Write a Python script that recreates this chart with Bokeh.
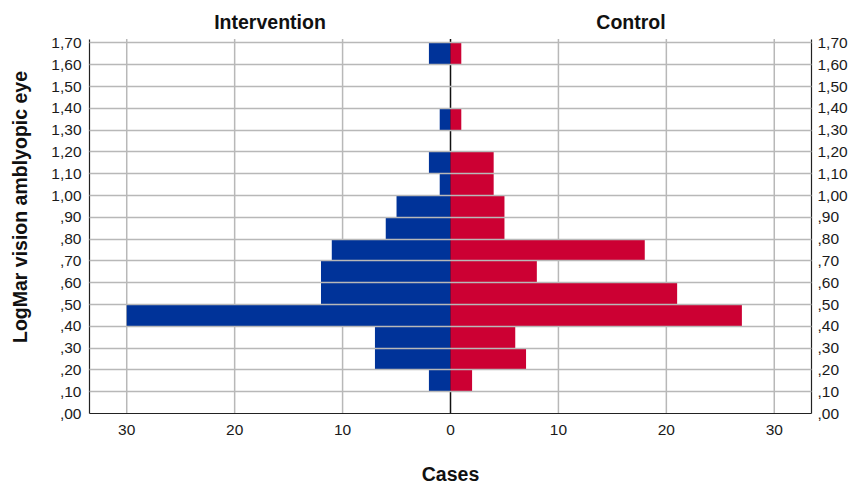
from bokeh.plotting import figure
from bokeh.models import LinearAxis, FixedTicker, Range1d
from bokeh.core.properties import value
from bokeh.embed import file_html
from bokeh.resources import INLINE

# ---- data (counts per 0.10 LogMar bin) ----
bin_lower = [0.0, 0.1, 0.2, 0.3, 0.4, 0.5, 0.6, 0.7, 0.8, 0.9, 1.0, 1.1, 1.2, 1.3, 1.4, 1.5, 1.6]
bin_upper = [0.1, 0.2, 0.3, 0.4, 0.5, 0.6, 0.7, 0.8, 0.9, 1.0, 1.1, 1.2, 1.3, 1.4, 1.5, 1.6, 1.7]
intervention = [0, 2, 7, 7, 30, 12, 12, 11, 6, 5, 1, 2, 0, 1, 0, 0, 2]
control = [0, 2, 7, 6, 27, 21, 8, 18, 5, 5, 4, 4, 0, 1, 0, 0, 1]

y_ticks = [0.0, 0.1, 0.2, 0.3, 0.4, 0.5, 0.6, 0.7, 0.8, 0.9, 1.0, 1.1, 1.2, 1.3, 1.4, 1.5, 1.6, 1.7]
y_tick_labels = [",00", ",10", ",20", ",30", ",40", ",50", ",60", ",70", ",80", ",90",
                 "1,00", "1,10", "1,20", "1,30", "1,40", "1,50", "1,60", "1,70"]
x_ticks = [-30, -20, -10, 0, 10, 20, 30]
x_tick_labels = ["30", "20", "10", "0", "10", "20", "30"]
group_titles = ["Intervention", "Control"]
x_title = "Cases"
y_title = "LogMar vision amblyopic eye"

X_MAX = 33.45
Y_MAX = 1.718       # top of the plotting area
Y_TOP = 1.895       # extra head room for the group titles
TITLE_Y = 1.797
FONT = "Liberation Sans"
BLUE = "#003399"
RED = "#CC0033"
GRID = "#b8b8b8"

p = figure(width=850, height=487,
           x_range=Range1d(-X_MAX, X_MAX), y_range=Range1d(0, Y_TOP),
           output_backend="svg", toolbar_location=None,
           min_border_left=89, min_border_right=0,
           min_border_top=0, min_border_bottom=73)
p.outline_line_color = None
p.background_fill_color = "white"
p.border_fill_color = "white"

# vertical grid lines and zero line (below the bars)
grid_x = [t for t in x_ticks if t != 0]
p.segment(x0=grid_x, y0=[0] * len(grid_x), x1=grid_x, y1=[Y_MAX] * len(grid_x),
          line_color=GRID, line_width=1.5)
p.segment(x0=[0], y0=[0], x1=[0], y1=[Y_MAX], line_color="#111111", line_width=1.5)

# bars
p.quad(left=[-v for v in intervention], right=[0] * len(intervention),
       bottom=bin_lower, top=bin_upper, fill_color=BLUE, line_color=None)
p.quad(left=[0] * len(control), right=control,
       bottom=bin_lower, top=bin_upper, fill_color=RED, line_color=None)

# grids
p.xgrid.grid_line_color = None
p.ygrid.ticker = FixedTicker(ticks=y_ticks)
p.ygrid.grid_line_color = GRID
p.ygrid.grid_line_width = 1.5
p.ygrid.level = "overlay"

y_overrides = {round(t, 1): lab for t, lab in zip(y_ticks, y_tick_labels)}
x_overrides = {t: lab for t, lab in zip(x_ticks, x_tick_labels)}


def style_axis(ax, standoff):
    ax.axis_line_color = "#222222"
    ax.axis_line_width = 1.2
    ax.major_tick_line_color = None
    ax.minor_tick_line_color = None
    ax.major_tick_out = 0
    ax.major_tick_in = 0
    ax.minor_tick_out = 0
    ax.minor_tick_in = 0
    ax.major_label_text_font = FONT
    ax.major_label_text_font_size = "15.5px"
    ax.major_label_text_color = "#1a1a1a"
    ax.major_label_standoff = standoff


# left y axis
ly = p.yaxis[0]
ly.ticker = FixedTicker(ticks=y_ticks)
ly.major_label_overrides = y_overrides
ly.bounds = (0, Y_MAX)
style_axis(ly, 8)
ly.axis_label = y_title
ly.axis_label_text_font = FONT
ly.axis_label_text_font_style = "bold"
ly.axis_label_text_font_size = "19.5px"
ly.axis_label_text_color = "#111111"
ly.axis_label_standoff = 17

# right y axis
ry = LinearAxis(ticker=FixedTicker(ticks=y_ticks), major_label_overrides=y_overrides,
                bounds=(0, Y_MAX))
style_axis(ry, 6)
p.add_layout(ry, "right")

# x axis
xa = p.xaxis[0]
xa.ticker = FixedTicker(ticks=x_ticks)
xa.major_label_overrides = x_overrides
style_axis(xa, 11)
xa.axis_label = x_title
xa.axis_label_text_font = FONT
xa.axis_label_text_font_style = "bold"
xa.axis_label_text_font_size = "19.5px"
xa.axis_label_text_color = "#111111"
xa.axis_label_standoff = 25

# group titles
p.text(x=[-X_MAX / 2, X_MAX / 2], y=[TITLE_Y, TITLE_Y], text=group_titles,
       text_align="center", text_baseline="middle", text_font=value(FONT),
       text_font_style="bold", text_font_size="19.5px", text_color="#111111")

open("out.html", "w").write(file_html(p, INLINE))
